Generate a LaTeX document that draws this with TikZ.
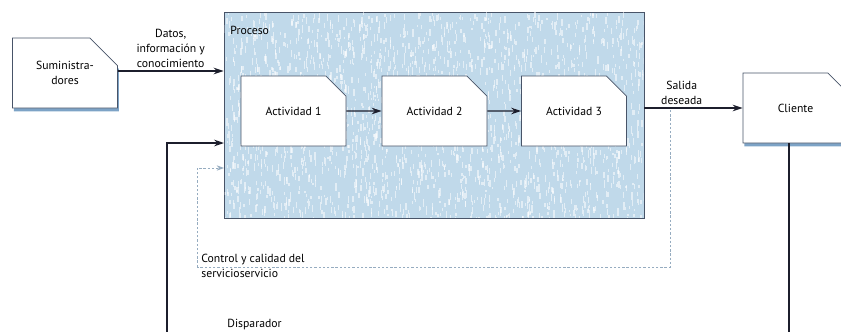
\documentclass[tikz,border=0pt]{standalone}
\usepackage{fontspec}
\setmainfont{PT Sans}
\usetikzlibrary{shapes.misc,shadows,arrows.meta}

\definecolor{procblue}{RGB}{192,217,234}
\definecolor{shadowblue}{RGB}{125,163,198}
\definecolor{linecol}{RGB}{28,30,44}
\definecolor{boxline}{RGB}{72,84,104}
\definecolor{fbgray}{RGB}{150,172,192}

\tikzset{
  notchbox/.style={chamfered rectangle, chamfered rectangle corners=north east,
    chamfered rectangle xsep=5.4mm, chamfered rectangle ysep=4.8mm,
    draw=boxline, line width=0.6pt, fill=white, align=center,
    minimum width=31.5mm, minimum height=21mm, inner sep=0pt,
    font=\fontsize{10}{12.5}\selectfont},
  shadowbox/.style={notchbox, drop shadow={shadow xshift=0.4mm, shadow yshift=-1mm,
    fill=shadowblue, opacity=1}},
  arr/.style={draw=linecol, line width=1.2pt, -{Stealth[length=3mm,width=2mm]}},
  feedline/.style={draw=fbgray, line width=0.7pt, dash pattern=on 2pt off 1.6pt},
  lbl/.style={align=center, inner sep=1pt, font=\fontsize{10}{12.8}\selectfont}
}

\begin{document}
\begin{tikzpicture}[x=0.3mm,y=-0.3mm]
\useasboundingbox (0,0) rectangle (841,332);

% Process area
\node[draw=boxline, line width=0.7pt, fill=procblue, minimum width=126mm,
  minimum height=61.8mm, inner sep=0pt] (proc) at (434,115) {};
\begin{scope}
  \clip ([shift={(1,-1)}]proc.south west) rectangle ([shift={(-1,1)}]proc.north east);
  \pgfmathsetseed{11}
  \foreach \k in {1,...,2200}{
    \pgfmathsetmacro\px{224+420*rnd}
    \pgfmathsetmacro\py{12+206*rnd}
    \fill[white, opacity=0.55] (\px,\py) rectangle ++(1.3,2+6*rnd);
  }
\end{scope}
\node[anchor=west, lbl] (proclbl) at (229,30) {Proceso};

% Boxes
\node[shadowbox] (sum) at (65,73) {Suministra-\\dores};
\node[notchbox] (act1) at (293.5,111) {Actividad 1};
\node[notchbox] (act2) at (434.5,111) {Actividad 2};
\node[notchbox] (act3) at (574,111) {Actividad 3};
\node[shadowbox] (cli) at (795.5,108) {Cliente};

% Flow
\draw[arr] (sum.east |- 0,71) -- (proc.west |- 0,71)
  node[midway, above=1pt, lbl] (datos) {Datos,\\información y\\conocimiento};
\draw[arr] (act1) -- (act2);
\draw[arr] (act2) -- (act3);
\draw[arr] (cli.west -| proc.east) -- (cli.west)
  node[pos=0.38, above=1pt, lbl] (salida) {Salida\\deseada};

% Trigger
\coordinate (trig) at (167,334);
\coordinate (trigin) at (224,143);
\draw[arr] (trig) |- (trigin);
\coordinate (clibot) at (789,334);
\draw[draw=linecol, line width=1.2pt] (cli.south -| clibot) -- (clibot);
\node[anchor=west, lbl] (disp) at (226,325) {Disparador};

% Feedback
\coordinate (fbstart) at (670,110);
\coordinate (fbcorner) at (197,267);
\coordinate (fbin) at (224,168);
\draw[feedline] (fbstart) |- (fbcorner);
\draw[feedline, -{Stealth[length=2.2mm,width=1.6mm]}] (fbcorner) |- (fbin);
\node[anchor=west, align=left, inner sep=1pt, font=\fontsize{10}{13}\selectfont]
  (ctrl) at (200,266) {Control y calidad del\\servicioservicio};

\end{tikzpicture}
\end{document}
